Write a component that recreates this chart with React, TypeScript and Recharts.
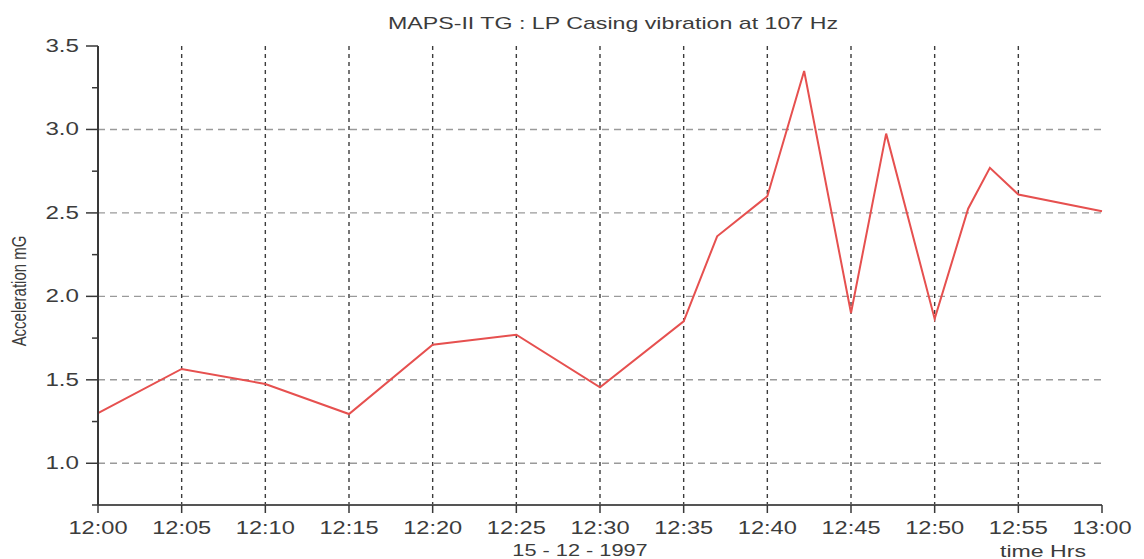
import { CartesianGrid, Line, LineChart, XAxis, YAxis } from "recharts";

// minutes after 12:00 and measured acceleration (mG)
const minutes = [0, 5, 10, 15, 20, 25, 30, 35, 37, 40, 42.2, 45, 47.1, 50, 52, 53.3, 55, 60];
const accel = [1.3, 1.565, 1.475, 1.295, 1.71, 1.77, 1.455, 1.85, 2.36, 2.6, 3.35, 1.9, 2.975, 1.865, 2.525, 2.77, 2.61, 2.51];

const xTicks = [0, 5, 10, 15, 20, 25, 30, 35, 40, 45, 50, 55, 60];
const xTickLabels = ["12:00", "12:05", "12:10", "12:15", "12:20", "12:25", "12:30", "12:35", "12:40", "12:45", "12:50", "12:55", "13:00"];
const yTicks = [0.75, 1.0, 1.25, 1.5, 1.75, 2.0, 2.25, 2.5, 2.75, 3.0, 3.25, 3.5];
const yMajor = [1.0, 1.5, 2.0, 2.5, 3.0, 3.5];
const xGrid = [5, 10, 15, 20, 25, 30, 35, 40, 45, 50, 55];

const TEXT = "#3c3c3c";
const AXIS = "#383838";
const FONT = "'Liberation Sans', Arial, sans-serif";

const data = minutes.map((t, i) => ({ t, v: accel[i] }));

function XTick({ x, y, payload }: any) {
  const idx = xTicks.indexOf(payload.value);
  return (
    <text
      transform={`translate(${x},${y + 19}) scale(1.35,1)`}
      textAnchor="middle"
      fontSize={17.5}
      fontFamily={FONT}
      fill={TEXT}
    >
      {xTickLabels[idx]}
    </text>
  );
}

function YTick({ x, y, payload }: any) {
  const major = yMajor.includes(payload.value);
  const axisX = x + 19;
  return (
    <g>
      <line x1={major ? axisX - 12 : axisX - 6} x2={axisX} y1={y} y2={y} stroke={AXIS} strokeWidth={1.5} />
      {major && (
        <text
          transform={`translate(${x},${y + 6}) scale(1.38,1)`}
          textAnchor="end"
          fontSize={17.5}
          fontFamily={FONT}
          fill={TEXT}
        >
          {payload.value.toFixed(1)}
        </text>
      )}
    </g>
  );
}

// inward tick marks on the right frame
function RightTick({ x, y }: any) {
  return <line x1={x} x2={x + 8} y1={y} y2={y} stroke={AXIS} strokeWidth={1.5} />;
}

// inward tick marks on the top frame
function TopTick({ x, y }: any) {
  return <line x1={x} x2={x} y1={y - 7} y2={y} stroke={AXIS} strokeWidth={1.8} />;
}

export default function App() {
  return (
    <div style={{ position: "absolute", left: 0, top: 0, width: 1144, height: 559, background: "#fff" }}>
      <LineChart width={1144} height={559} data={data} margin={{ top: 46, right: 42, bottom: 24, left: 38 }}>
        <CartesianGrid
          vertical={false}
          horizontalValues={yMajor.slice(0, 5)}
          stroke="#9a9a9a"
          strokeWidth={1.4}
          strokeDasharray="7 5"
        />
        <CartesianGrid
          horizontal={false}
          verticalValues={xGrid}
          stroke="#3c3c3c"
          strokeWidth={1.4}
          strokeDasharray="4 4"
        />
        <XAxis
          dataKey="t"
          type="number"
          domain={[0, 60]}
          ticks={xTicks}
          tick={<XTick />}
          tickSize={8}
          tickMargin={2}
          interval={0}
          height={30}
          axisLine={{ stroke: "#555", strokeWidth: 2 }}
          tickLine={{ stroke: AXIS, strokeWidth: 1.5 }}
        />
        <XAxis
          xAxisId="top"
          orientation="top"
          type="number"
          domain={[0, 60]}
          ticks={xTicks}
          interval={0}
          mirror
          height={0}
          tick={<TopTick />}
          tickLine={false}
          tickSize={7}
          tickMargin={0}
          axisLine={{ stroke: "#555", strokeWidth: 1.8 }}
        />
        <YAxis
          type="number"
          domain={[0.75, 3.5]}
          ticks={yTicks}
          interval={0}
          width={60}
          tick={<YTick />}
          tickLine={false}
          tickSize={12}
          tickMargin={7}
          axisLine={{ stroke: AXIS, strokeWidth: 2 }}
        />
        <YAxis
          yAxisId="right"
          orientation="right"
          type="number"
          domain={[0.75, 3.5]}
          ticks={yTicks}
          interval={0}
          mirror
          width={0}
          tick={<RightTick />}
          tickLine={false}
          tickSize={8}
          tickMargin={0}
          axisLine={{ stroke: AXIS, strokeWidth: 2.2 }}
        />
        <Line
          type="linear"
          dataKey="v"
          stroke="#e6504f"
          strokeWidth={2}
          dot={false}
          activeDot={false}
          isAnimationActive={false}
        />
      </LineChart>
      <svg width={1144} height={559} style={{ position: "absolute", left: 0, top: 0, pointerEvents: "none" }}>
        <text transform="translate(613,29) scale(1.45,1)" textAnchor="middle" fontSize={16} fontFamily={FONT} fill={TEXT}>
          MAPS-II TG : LP Casing vibration at 107 Hz
        </text>
        <text transform="translate(26,291) rotate(-90) scale(1,1.35)" textAnchor="middle" fontSize={15} fontFamily={FONT} fill={TEXT}>
          Acceleration mG
        </text>
        <text transform="translate(580,556) scale(1.28,1)" textAnchor="middle" fontSize={17} fontFamily={FONT} fill={TEXT}>
          15 - 12 - 1997
        </text>
        <text transform="translate(1043,557) scale(1.36,1)" textAnchor="middle" fontSize={17} fontFamily={FONT} fill={TEXT}>
          time Hrs
        </text>
      </svg>
    </div>
  );
}
